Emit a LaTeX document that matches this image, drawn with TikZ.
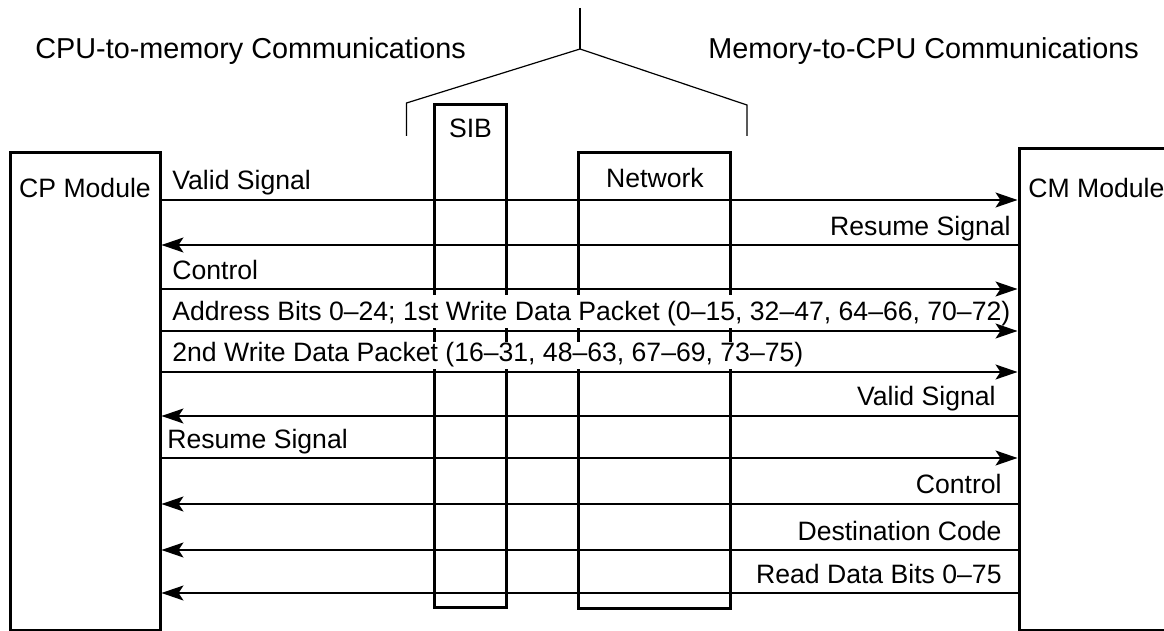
\documentclass[tikz,border=0pt]{standalone}
\usepackage{fontspec}
\setmainfont{Liberation Sans}
\usetikzlibrary{arrows.meta}

\begin{document}
\begin{tikzpicture}[
	x=0.5pt, y=-0.5pt,
	txt/.style={ font=\fontsize{13.3}{16}\selectfont, inner sep=0pt },
	head/.style={ font=\fontsize{14.4}{17}\selectfont, inner sep=0pt },
	unit/.style={ draw, line width=1.5pt, inner sep=0pt },
	lbl/.style={ txt, fill=white, inner ysep=1pt, text height=1.05em, text depth=0.25em },
	wire/.style={ line width=0.6pt, >={Stealth[length=11pt,width=7.5pt,inset=2.5pt]} }
]

\useasboundingbox (0,0) rectangle (1164,631);

\node at (85,391.5) (cp) [unit,minimum width=75pt,minimum height=238.5pt] {};
\node at (1104.5,389.5) (cm) [unit,minimum width=85.5pt,minimum height=240.5pt] {};
\node at (470.25,355.75) (sib) [unit,minimum width=35.75pt,minimum height=251.25pt] {};
\node at (654,380.5) (net) [unit,minimum width=76pt,minimum height=227.5pt] {};

\node at (85,188) (cpname) [txt] {CP Module};
\node at (1028,188) (cmname) [txt,anchor=west] {CM Module};
\node at (470.5,128.5) (sibname) [txt] {SIB};
\node at (655,178) (netname) [txt] {Network};

\node at (35,59) (tomem) [head,anchor=base west] {CPU-to-memory Communications};
\node at (708,59) (tocpu) [head,anchor=base west] {Memory-to-CPU Communications};

\coordinate (apex) at (580,49);
\draw[line width=0.6pt] (580,8) -- (apex);
\draw[line width=0.6pt] (406.5,136) -- (406.5,103) -- (apex) -- (747,105) -- (747,136);

\node at (172,190) (l1) [lbl,anchor=base west] {Valid Signal};
\node at (1011,235) (l2) [lbl,anchor=base east] {Resume Signal};
\node at (172,279) (l3) [lbl,anchor=base west] {Control};
\node at (172,321) (l4) [lbl,anchor=base west,text height=1.2em] {Address Bits 0–24; 1st Write Data Packet (0–15, 32–47, 64–66, 70–72)};
\node at (172,362) (l5) [lbl,anchor=base west,text height=0.9em] {2nd Write Data Packet (16–31, 48–63, 67–69, 73–75)};
\node at (996,406) (l6) [lbl,anchor=base east] {Valid Signal};
\node at (167,448) (l7) [lbl,anchor=base west] {Resume Signal};
\node at (1002,494) (l8) [lbl,anchor=base east] {Control};
\node at (1002,540) (l9) [lbl,anchor=base east] {Destination Code};
\node at (1002,583) (l10) [lbl,anchor=base east] {Read Data Bits 0–75};

\foreach \y/\tip in {200/->, 245/<-, 289/->, 331/->, 372/->, 416/<-, 458/->, 504/<-, 550/<-, 593/<-}
  \draw[wire,\tip] (cp.east |- 0,\y) -- (cm.west |- 0,\y);

\end{tikzpicture}
\end{document}
